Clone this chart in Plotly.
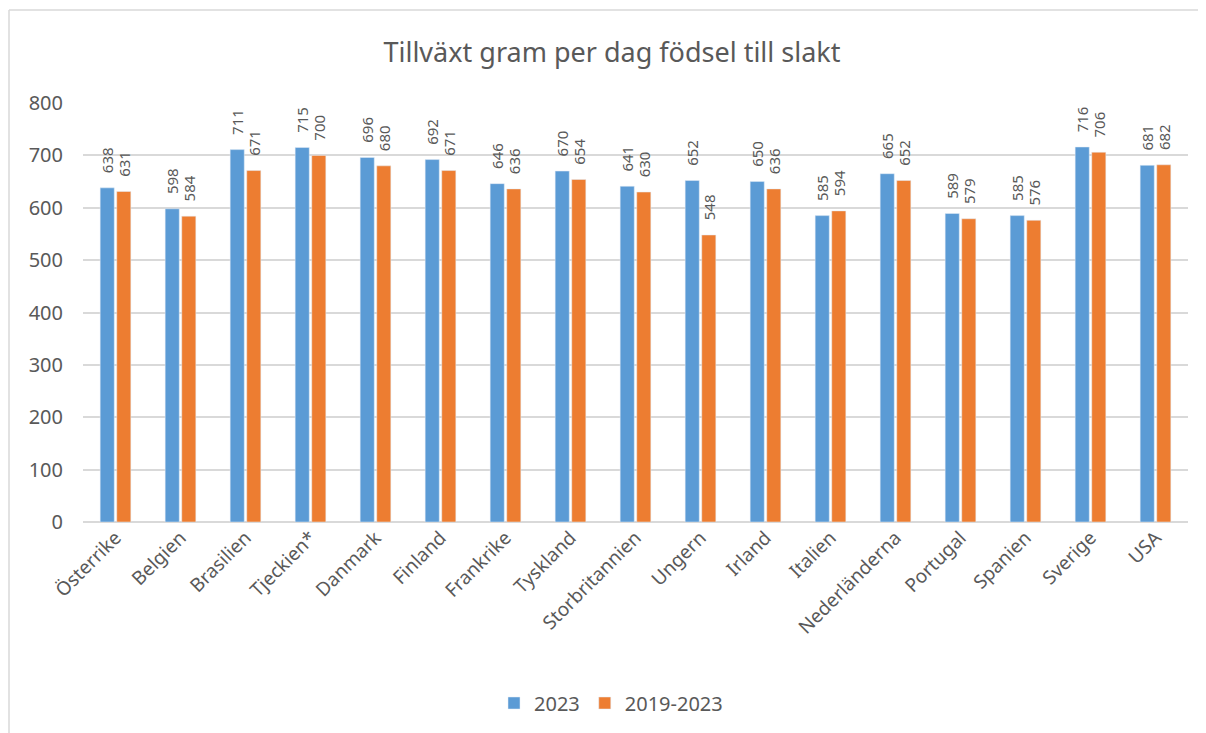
import plotly.graph_objects as go

categories = ["Österrike", "Belgien", "Brasilien", "Tjeckien*", "Danmark", "Finland",
              "Frankrike", "Tyskland", "Storbritannien", "Ungern", "Irland", "Italien",
              "Nederländerna", "Portugal", "Spanien", "Sverige", "USA"]
values_2023 = [638, 598, 711, 715, 696, 692, 646, 670, 641, 652, 650, 585, 665, 589, 585, 716, 681]
values_2019_2023 = [631, 584, 671, 700, 680, 671, 636, 654, 630, 548, 636, 594, 652, 579, 576, 706, 682]
y_ticks = [0, 100, 200, 300, 400, 500, 600, 700, 800]

FONT = "Noto Sans"
TXT = "#595959"
OFF = 8  # page body offset
PAD = "\u00a0" * 3

fig = go.Figure()
for name, vals, col in [("2023", values_2023, "#5B9BD5"), ("2019-2023", values_2019_2023, "#ED7D31")]:
    fig.add_trace(go.Bar(
        name=name, x=categories, y=vals,
        marker=dict(color=col),
        text=[PAD + str(v) for v in vals], textposition="outside",
        textangle=-90, constraintext="none",
        textfont=dict(size=15, color=TXT, family=FONT),
        cliponaxis=False,
    ))

W, H = 1206 - OFF, 733 - OFF
L, R, T = 83 - OFF, 18, 103 - OFF
B = H - (522 - OFF)
pw, ph = W - L - R, H - T - B
bx = (1 - L) / pw
ty = 1 + (T - (10 - OFF)) / ph

fig.update_layout(
    width=W, height=H,
    margin=dict(l=L, r=R, t=T, b=B, autoexpand=False),
    paper_bgcolor="white", plot_bgcolor="white",
    font=dict(family=FONT, color=TXT),
    barmode="group", bargap=0.49, bargroupgap=0.15,
    title=dict(text="Tillväxt gram per dag födsel till slakt",
               x=(612 - OFF) / W, xanchor="center", y=1 - (53 - OFF) / H, yanchor="middle",
               font=dict(size=27, color=TXT, family=FONT)),
    xaxis=dict(tickangle=-45, tickfont=dict(size=19, color=TXT, family=FONT),
               showgrid=False, showline=False, ticks="", automargin=False),
    yaxis=dict(range=[0, 800], tickvals=y_ticks, tickfont=dict(size=20, color=TXT, family=FONT),
               showgrid=True, gridcolor="#D9D9D9", gridwidth=1.5, zeroline=True,
               zerolinecolor="#D9D9D9", zerolinewidth=1.5, showline=False, ticks="",
               ticklabelstandoff=19, automargin=False),
    legend=dict(orientation="h", x=(611 - OFF - L) / pw, xanchor="center",
                y=(522 - 703) / ph, yanchor="middle",
                font=dict(size=20, color=TXT, family=FONT), traceorder="normal",
                itemwidth=30),
    showlegend=True,
    shapes=[
        dict(type="line", xref="paper", yref="paper", x0=bx, x1=bx, y0=-0.7, y1=ty,
             line=dict(color="#D9D9D9", width=1.5)),
        dict(type="line", xref="paper", yref="paper", x0=bx, x1=1.2, y0=ty, y1=ty,
             line=dict(color="#D9D9D9", width=1.5)),
    ],
)

fig.write_html("out.html")
